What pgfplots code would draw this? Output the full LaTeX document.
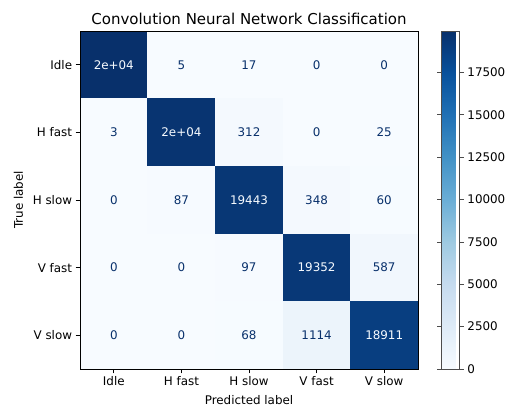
\documentclass[border=0pt]{standalone}
\usepackage{fontspec}
\setmainfont{DejaVu Sans}
\usepackage{pgfplots}
\usepackage{pgfplotstable}
\pgfplotsset{compat=1.18}
\definecolor{txtdark}{HTML}{08306B}
\definecolor{txtlight}{HTML}{F7FBFF}
\pgfplotstableread{
x y c
0 0 19950
1 0 5
2 0 17
3 0 0
4 0 0
0 1 3
1 1 19660
2 1 312
3 1 0
4 1 25
0 2 0
1 2 87
2 2 19443
3 2 348
4 2 60
0 3 0
1 3 0
2 3 97
3 3 19352
4 3 587
0 4 0
1 4 0
2 4 68
3 4 1114
4 4 18911
}\cmtable
\pgfplotstableread{
x y t
1 0 5
2 0 17
3 0 0
4 0 0
0 1 3
2 1 312
3 1 0
4 1 25
0 2 0
1 2 87
3 2 348
4 2 60
0 3 0
1 3 0
2 3 97
4 3 587
0 4 0
1 4 0
2 4 68
3 4 1114
}\darktxt
\pgfplotstableread{
x y t
0 0 2e+04
1 1 2e+04
2 2 19443
3 3 19352
4 4 18911
}\lighttxt
\begin{document}
\begin{tikzpicture}[font=\fontsize{11.9}{14}\selectfont]
\begin{axis}[
  name=m,
  scale only axis,
  width=338pt, height=338pt,
  xmin=-0.5, xmax=4.5, ymin=-0.5, ymax=4.5,
  enlargelimits=false,
  y dir=reverse,
  axis on top,
  xtick={0,1,2,3,4}, ytick={0,1,2,3,4},
  xticklabels={Idle,H fast,H slow,V fast,V slow},
  yticklabels={Idle,H fast,H slow,V fast,V slow},
  tick align=outside,
  xtick pos=bottom, ytick pos=left,
  major tick length=4.4pt,
  tick style={black, line width=0.8pt},
  axis line style={line width=0.8pt},
  xlabel={Predicted label}, ylabel={True label},
  xlabel style={yshift=-2pt},
  ylabel style={yshift=3pt},
  title={\fontsize{15}{18}\selectfont Convolution Neural Network Classification},
  title style={yshift=-3pt},
  colormap={blues}{rgb255=(247,251,255) rgb255=(222,235,247) rgb255=(198,219,239) rgb255=(158,202,225) rgb255=(107,174,214) rgb255=(66,146,198) rgb255=(33,113,181) rgb255=(8,81,156) rgb255=(8,48,107)},
  point meta min=0, point meta max=19950,
  colorbar,
  colorbar style={
    scale only axis,
    at={(parent axis.north east)}, anchor=north west, xshift=15pt,
    width=18pt,
    ytick={0,2500,5000,7500,10000,12500,15000,17500},
    scaled y ticks=false,
    yticklabel style={/pgf/number format/1000 sep={}, /pgf/number format/fixed, anchor=west},
    /pgf/number format/assume math mode=true,
    tick align=outside,
    major tick length=4.4pt,
    tick style={black!70, line width=0.8pt},
    axis line style={black!70, line width=0.8pt},
  },
  /pgf/number format/assume math mode=true,
]
\addplot[matrix plot*, mesh/cols=5, point meta=explicit] table[x=x, y=y, meta=c] {\cmtable};
\addplot[only marks, mark=none, nodes near coords, point meta=explicit symbolic,
  nodes near coords align=center,
  every node near coord/.append style={text=txtdark, anchor=center}]
  table[x=x, y=y, meta=t] {\darktxt};
\addplot[only marks, mark=none, nodes near coords, point meta=explicit symbolic,
  nodes near coords align=center,
  every node near coord/.append style={text=txtlight, anchor=center}]
  table[x=x, y=y, meta=t] {\lighttxt};
\end{axis}
\pgfresetboundingbox
\path[use as bounding box] ([xshift=-80pt,yshift=-40pt]m.south west) rectangle ([xshift=88pt,yshift=31pt]m.north east);
\end{tikzpicture}
\end{document}
